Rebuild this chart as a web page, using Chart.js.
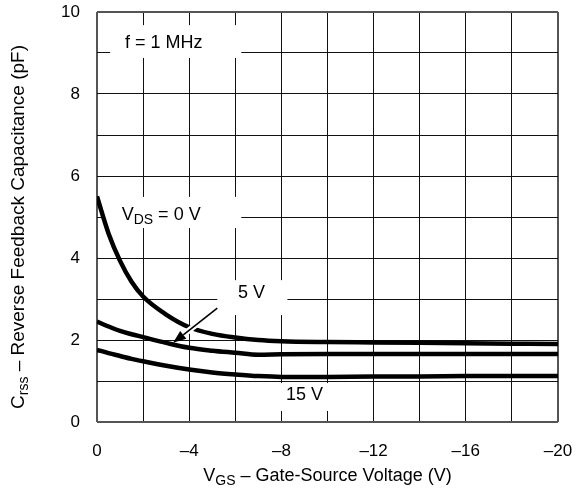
<!DOCTYPE html>
<html>
<head>
<meta charset="utf-8">
<script src="https://cdn.jsdelivr.net/npm/chart.js@4"></script>
<style>
  html, body { margin: 0; padding: 0; background: #fff; }
  canvas { display: block; }
</style>
</head>
<body>
<canvas id="crssChart" width="580" height="491"></canvas>
<script>
// Gate-source voltage (V), shared by all three curves
const vgs = [0, -0.5, -1, -1.5, -2, -3, -4, -5, -6, -7, -8, -10, -12, -14, -16, -18, -20];

// Crss (pF) for each drain-source voltage
const crssVds0 = [5.5, 4.6, 3.93, 3.42, 3.06, 2.62, 2.31, 2.15, 2.06, 2.0, 1.97, 1.95, 1.94, 1.93, 1.92, 1.91, 1.9];
const crssVds5 = [2.45, 2.33, 2.22, 2.14, 2.07, 1.93, 1.81, 1.74, 1.69, 1.64, 1.65, 1.66, 1.66, 1.66, 1.66, 1.66, 1.66];
const crssVds15 = [1.76, 1.68, 1.61, 1.54, 1.48, 1.37, 1.28, 1.21, 1.16, 1.12, 1.1, 1.1, 1.11, 1.11, 1.12, 1.12, 1.12];

// Axis ticks
const xTicks = [0, -4, -8, -12, -16, -20];
const yTicks = [0, 2, 4, 6, 8, 10];

const FONT = '"Liberation Sans", Arial, Helvetica, sans-serif';

function toPoints(ys) {
    return vgs.map((x, i) => ({ x: x, y: ys[i] }));
}

function curve(ys) {
    return {
        data: toPoints(ys),
        borderColor: '#000',
        borderWidth: 4.5,
        pointRadius: 0,
        fill: false,
        cubicInterpolationMode: 'monotone'
    };
}

// Draws text made of runs, some of them subscripts, centred on (cx, cy)
function drawRich(ctx, parts, cx, cy, size, align) {
    const big = size + 'px ' + FONT;
    const small = Math.round(size * 0.75) + 'px ' + FONT;
    let width = 0;
    parts.forEach(p => {
        ctx.font = p.sub ? small : big;
        width += ctx.measureText(p.t).width;
    });
    let x = align === 'left' ? cx : cx - width / 2;
    ctx.textBaseline = 'middle';
    ctx.textAlign = 'left';
    parts.forEach(p => {
        ctx.font = p.sub ? small : big;
        ctx.fillText(p.t, x, p.sub ? cy + size * 0.28 : cy);
        x += ctx.measureText(p.t).width;
    });
}

// Annotation boxes: white rectangles that blank out the grid behind the labels
const labelBoxes = [
    { x1: -0.57, x2: -6.26, y1: 9.68, y2: 8.88 },
    { x1: -0.26, x2: -6.26, y1: 5.49, y2: 4.73 },
    { x1: -5.22, x2: -8.26, y1: 3.46, y2: 2.61 },
    { x1: -7.6, x2: -10.57, y1: 0.95, y2: 0.27 }
];

const annotations = {
    id: 'annotations',
    beforeDatasetsDraw(chart) {
        const { ctx, scales: { x, y } } = chart;
        ctx.save();
        ctx.fillStyle = '#fff';
        labelBoxes.forEach(b => {
            const l = x.getPixelForValue(b.x1);
            const r = x.getPixelForValue(b.x2);
            const t = y.getPixelForValue(b.y1);
            const btm = y.getPixelForValue(b.y2);
            ctx.fillRect(l, t, r - l, btm - t);
        });
        ctx.fillStyle = '#000';
        drawRich(ctx, [{ t: 'f = 1 MHz' }], x.getPixelForValue(-2.9), y.getPixelForValue(9.24), 18);
        drawRich(ctx, [{ t: 'V' }, { t: 'DS', sub: true }, { t: ' = 0 V' }],
            x.getPixelForValue(-1.07), y.getPixelForValue(5.05), 18, 'left');
        drawRich(ctx, [{ t: '5 V' }], x.getPixelForValue(-6.7), y.getPixelForValue(3.15), 18);
        drawRich(ctx, [{ t: '15 V' }], x.getPixelForValue(-9.0), y.getPixelForValue(0.66), 18);
        ctx.restore();
    },
    afterDatasetsDraw(chart) {
        const { ctx, scales: { x, y } } = chart;
        const x0 = x.getPixelForValue(-5.22), y0 = y.getPixelForValue(2.78);
        const x1 = x.getPixelForValue(-3.3), y1 = y.getPixelForValue(1.93);
        const ang = Math.atan2(y1 - y0, x1 - x0);
        const headLen = 13, headW = 5;
        const bx = x1 - headLen * Math.cos(ang), by = y1 - headLen * Math.sin(ang);
        ctx.save();
        // white halo where the arrow crosses the curve
        ctx.strokeStyle = '#fff';
        ctx.lineWidth = 6;
        ctx.beginPath();
        ctx.moveTo(x0 + 4 * Math.cos(ang), y0 + 4 * Math.sin(ang));
        ctx.lineTo(bx, by);
        ctx.stroke();
        ctx.strokeStyle = '#000';
        ctx.lineWidth = 1.6;
        ctx.beginPath();
        ctx.moveTo(x0, y0);
        ctx.lineTo(bx, by);
        ctx.stroke();
        ctx.fillStyle = '#000';
        ctx.beginPath();
        ctx.moveTo(x1, y1);
        ctx.lineTo(bx + headW * Math.sin(ang), by - headW * Math.cos(ang));
        ctx.lineTo(bx - headW * Math.sin(ang), by + headW * Math.cos(ang));
        ctx.closePath();
        ctx.fill();
        ctx.restore();
    },
    afterDraw(chart) {
        const { ctx, chartArea: area } = chart;
        ctx.save();
        ctx.fillStyle = '#000';
        drawRich(ctx, [{ t: 'V' }, { t: 'GS', sub: true }, { t: ' – Gate-Source Voltage (V)' }],
            (area.left + area.right) / 2, 476, 18);
        ctx.translate(19, 227);
        ctx.rotate(-Math.PI / 2);
        drawRich(ctx, [{ t: 'C' }, { t: 'rss', sub: true }, { t: ' – Reverse Feedback Capacitance (pF)' }], 0, 0, 19);
        ctx.restore();
    }
};

function edgeColor(ctx, a, b) {
    return (ctx.tick && (ctx.tick.value === a || ctx.tick.value === b)) ? '#555' : '#111';
}

new Chart(document.getElementById('crssChart'), {
    type: 'line',
    data: {
        datasets: [curve(crssVds0), curve(crssVds5), curve(crssVds15)]
    },
    options: {
        responsive: false,
        animation: false,
        devicePixelRatio: 1,
        layout: { padding: { left: 0, top: 12, right: 22, bottom: 0 } },
        plugins: {
            legend: { display: false },
            tooltip: { enabled: false }
        },
        scales: {
            x: {
                type: 'linear',
                min: -20,
                max: 0,
                reverse: true,
                afterFit(scale) {
                    scale.height = 69;
                    scale.paddingLeft = 0;
                    scale.paddingRight = 0;
                },
                border: { display: false },
                grid: {
                    drawTicks: false,
                    color: ctx => edgeColor(ctx, 0, -20),
                    lineWidth: ctx => (ctx.tick && (ctx.tick.value === 0 || ctx.tick.value === -20)) ? 2 : 1
                },
                ticks: {
                    stepSize: 2,
                    padding: 19,
                    color: '#000',
                    font: { family: FONT, size: 17 },
                    maxRotation: 0,
                    autoSkip: false,
                    callback: v => xTicks.includes(v) ? (v === 0 ? '0' : '–' + Math.abs(v)) : ''
                }
            },
            y: {
                type: 'linear',
                min: 0,
                max: 10,
                afterFit(scale) {
                    scale.width = 97;
                    scale.paddingTop = 0;
                    scale.paddingBottom = 0;
                },
                border: { display: false },
                grid: {
                    drawTicks: false,
                    color: ctx => edgeColor(ctx, 0, 10),
                    lineWidth: ctx => (ctx.tick && (ctx.tick.value === 0 || ctx.tick.value === 10)) ? 2 : 1
                },
                ticks: {
                    stepSize: 1,
                    padding: 17,
                    color: '#000',
                    font: { family: FONT, size: 17 },
                    autoSkip: false,
                    callback: v => yTicks.includes(v) ? String(v) : ''
                }
            }
        }
    },
    plugins: [annotations]
});
</script>
</body>
</html>
